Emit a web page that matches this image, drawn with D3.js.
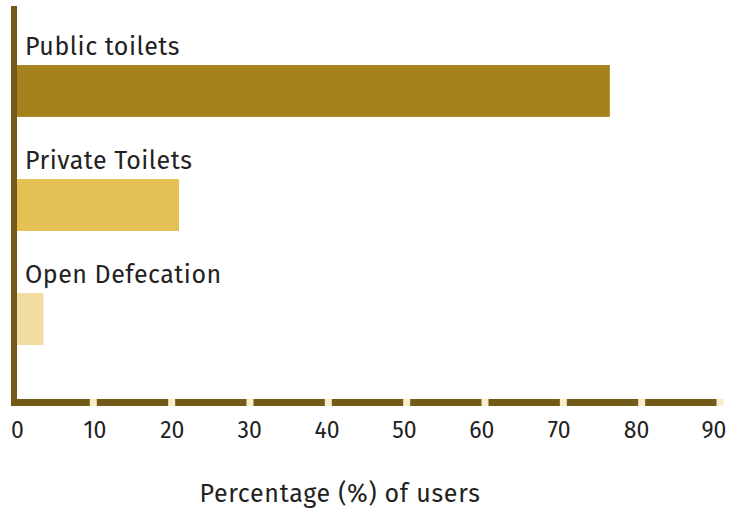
<!DOCTYPE html>
<html>
<head>
<meta charset="utf-8">
<script src="https://cdn.jsdelivr.net/npm/d3@7"></script>
<style>
  body { margin: 0; background: #fff; }
  text { font-family: "Fira Sans", "Noto Sans", "Open Sans", sans-serif; fill: #222; }
</style>
</head>
<body>
<svg id="chart"></svg>
<script>
/* Data */
const categories = ["Public toilets", "Private Toilets", "Open Defecation"];
const values = [76, 21, 3.7];
const barColors = ["#a6821f", "#e5c054", "#f1dca1"];
const xTicks = [0, 10, 20, 30, 40, 50, 60, 70, 80, 90];

const width = 729, height = 514;
const axisColor = "#735a18";

const svg = d3.select("#chart")
    .attr("width", width)
    .attr("height", height);

/* Scales */
const x = d3.scaleLinear().domain([0, 90]).range([14.5, 719.5]);
/* tick labels sit on a slightly narrower spread than the tick marks */
const xLabel = d3.scaleLinear().domain([0, 90]).range([17.5, 714]);
const y = d3.scaleBand()
    .domain(categories)
    .range([8, 402])
    .paddingInner(0.545)
    .paddingOuter(0.5);

const rows = categories.map((c, i) => ({ name: c, value: values[i], color: barColors[i] }));

/* Bars */
svg.selectAll(".bar")
    .data(rows)
    .join("rect")
      .attr("class", "bar")
      .attr("x", x(0))
      .attr("y", d => y(d.name))
      .attr("width", d => x(d.value) - x(0))
      .attr("height", y.bandwidth())
      .attr("fill", d => d.color);

/* Category labels above bars */
svg.selectAll(".cat-label")
    .data(rows)
    .join("text")
      .attr("class", "cat-label")
      .attr("x", 25)
      .attr("y", d => y(d.name) - 10)
      .style("font-size", "25px")
      .style("letter-spacing", "0.5px")
      .text(d => d.name);

/* X axis */
const xAxisG = svg.append("g")
    .attr("transform", "translate(0, 402.5)")
    .call(d3.axisBottom(x).tickValues(xTicks).tickSize(0).tickFormat(""));

xAxisG.select(".domain")
    .attr("d", `M${x(0) - 3},0H${x(90)}`)
    .attr("stroke", axisColor)
    .attr("stroke-width", 7);

xAxisG.selectAll(".tick")
    .filter(d => d !== 0)
    .append("line")
      .attr("y1", -3.5)
      .attr("y2", 3.5)
      .attr("stroke", "#f7ecc9")
      .attr("stroke-width", 7);

svg.selectAll(".tick-label")
    .data(xTicks)
    .join("text")
      .attr("class", "tick-label")
      .attr("x", d => xLabel(d))
      .attr("y", 438)
      .attr("text-anchor", "middle")
      .style("font-size", "23px")
      .text(d => d);

/* Y axis line */
svg.append("line")
    .attr("x1", 14).attr("x2", 14)
    .attr("y1", 6).attr("y2", 406)
    .attr("stroke", axisColor)
    .attr("stroke-width", 6);

/* Axis title */
svg.append("text")
    .attr("x", 340)
    .attr("y", 502)
    .attr("text-anchor", "middle")
    .style("font-size", "25px")
    .style("letter-spacing", "0.7px")
    .text("Percentage (%) of users");
</script>
</body>
</html>
